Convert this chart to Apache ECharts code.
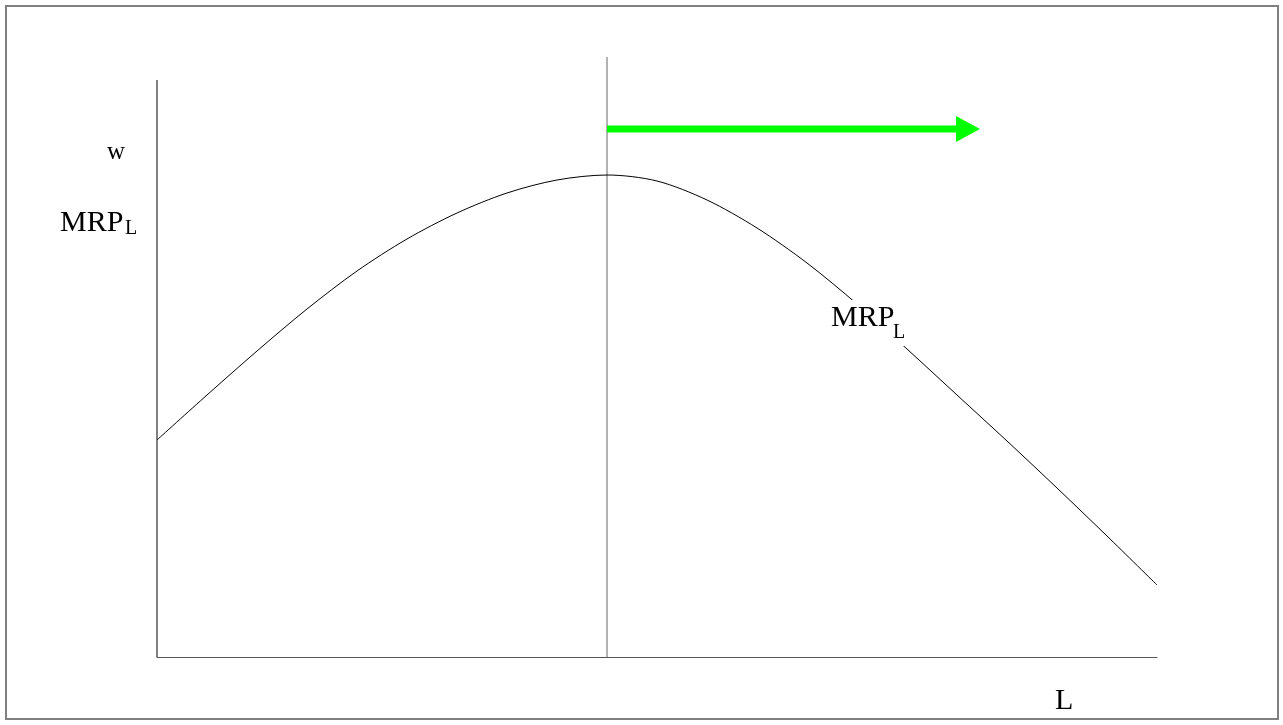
<!DOCTYPE html>
<html>
<head>
<meta charset="utf-8">
<script src="https://cdn.jsdelivr.net/npm/echarts@6/dist/echarts.min.js"></script>
<style>
  html, body { margin: 0; padding: 0; background: #fff; }
  #chart { width: 1283px; height: 725px; }
</style>
</head>
<body>
<div id="chart"></div>
<script>
// MRP_L curve (L on 0..100, w on 0..60)
const mrpL = [0, 5, 10, 15, 20, 25, 30, 35, 40, 45, 50, 55, 60, 65, 70, 75, 80, 85, 90, 95, 100];
const mrpW = [21.7, 26.2, 30.6, 34.8, 38.6, 41.8, 44.4, 46.4, 47.7, 48.2, 47.6, 45.7, 42.9, 39.4, 35.3, 30.8, 26.2, 21.6, 16.9, 12.1, 7.2];

// vertical line at the peak, the w axis, and the green shift arrow
const peakLine = [[45, 0], [45, 60]];
const yAxisLine = [[0, 0], [0, 57.7]];
const arrow = [[45, 52.8], [81.1, 52.8]];

const serif = 'Liberation Serif, Times New Roman, serif';

const chart = echarts.init(document.getElementById('chart'));

const option = {
  animation: false,
  backgroundColor: '#fff',
  grid: { left: 157, right: 126, top: 57, bottom: 68 },
  xAxis: {
    type: 'value', min: 0, max: 100,
    axisLine: { show: true, lineStyle: { color: '#555', width: 1 } },
    axisTick: { show: false }, axisLabel: { show: false }, splitLine: { show: false }
  },
  yAxis: {
    type: 'value', min: 0, max: 60,
    axisLine: { show: false }, axisTick: { show: false },
    axisLabel: { show: false }, splitLine: { show: false }
  },
  series: [
    {
      type: 'line', data: yAxisLine, symbol: 'none',
      lineStyle: { color: '#808080', width: 2 }, z: 1
    },
    {
      type: 'line', data: peakLine, symbol: 'none',
      lineStyle: { color: '#666', width: 1 }, z: 1
    },
    {
      type: 'line', data: mrpL.map((l, i) => [l, mrpW[i]]),
      smooth: 0.3, symbol: 'none',
      lineStyle: { color: '#000', width: 1 }, z: 2
    },
    {
      type: 'line', data: arrow,
      symbol: (v, p) => (p.dataIndex ? 'triangle' : 'none'),
      symbolSize: [26, 24], symbolRotate: -90, showSymbol: true,
      itemStyle: { color: '#00ff00' },
      lineStyle: { color: '#00ff00', width: 7 }, z: 3
    }
  ],
  graphic: [
    { type: 'rect', z: 100, shape: { x: 6, y: 6, width: 1272, height: 713 },
      style: { fill: 'none', stroke: '#808080', lineWidth: 2 } },
    { type: 'rect', z: 100, shape: { x: 828, y: 300, width: 96, height: 46 },
      style: { fill: '#fff' } },
    { type: 'text', z: 101, style: { x: 107, y: 152, text: 'w', font: '25px ' + serif, fill: '#000', verticalAlign: 'middle' } },
    { type: 'text', z: 101, style: { x: 60, y: 223, text: 'MRP', font: '30px ' + serif, fill: '#000', verticalAlign: 'middle' } },
    { type: 'text', z: 101, style: { x: 125, y: 229, text: 'L', font: '20px ' + serif, fill: '#000', verticalAlign: 'middle' } },
    { type: 'text', z: 101, style: { x: 831, y: 318, text: 'MRP', font: '30px ' + serif, fill: '#000', verticalAlign: 'middle' } },
    { type: 'text', z: 101, style: { x: 893, y: 333, text: 'L', font: '20px ' + serif, fill: '#000', verticalAlign: 'middle' } },
    { type: 'text', z: 101, style: { x: 1055, y: 701, text: 'L', font: '30px ' + serif, fill: '#000', verticalAlign: 'middle' } }
  ]
};

chart.setOption(option);
</script>
</body>
</html>
